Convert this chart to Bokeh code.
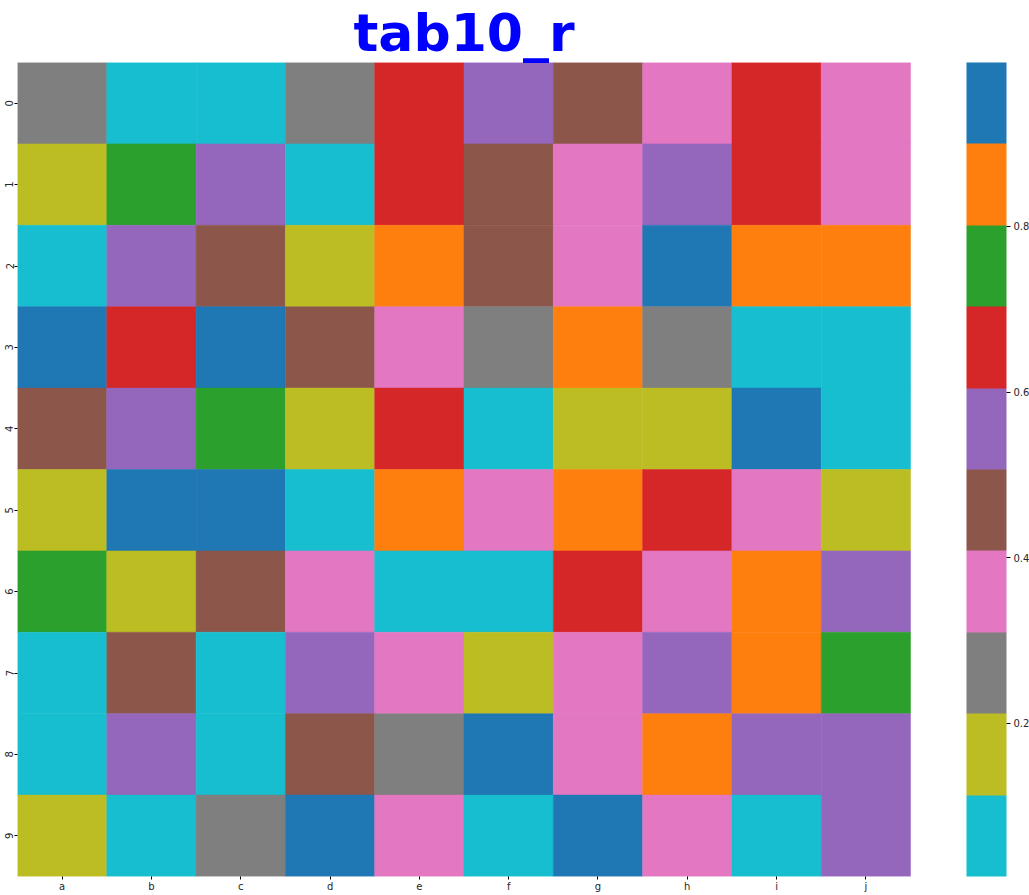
from bokeh.plotting import figure
from bokeh.models import (ColumnDataSource, LinearColorMapper, ColorBar, FixedTicker,
                          Range1d)
from bokeh.transform import transform
from bokeh.embed import file_html
from bokeh.resources import INLINE

columns = ["a", "b", "c", "d", "e", "f", "g", "h", "i", "j"]
rows = ["0", "1", "2", "3", "4", "5", "6", "7", "8", "9"]
values = [
    [0.26, 0.07, 0.05, 0.27, 0.66, 0.56, 0.45, 0.37, 0.64, 0.35],
    [0.17, 0.75, 0.55, 0.09, 0.65, 0.47, 0.36, 0.58, 0.67, 0.38],
    [0.06, 0.54, 0.46, 0.15, 0.84, 0.44, 0.34, 0.96, 0.86, 0.83],
    [0.94, 0.63, 0.95, 0.48, 0.36, 0.25, 0.85, 0.28, 0.08, 0.04],
    [0.43, 0.57, 0.73, 0.18, 0.66, 0.07, 0.16, 0.14, 0.93, 0.10],
    [0.19, 0.97, 0.92, 0.06, 0.87, 0.39, 0.82, 0.68, 0.37, 0.17],
    [0.76, 0.13, 0.45, 0.35, 0.03, 0.09, 0.62, 0.33, 0.84, 0.53],
    [0.05, 0.49, 0.08, 0.59, 0.34, 0.16, 0.38, 0.55, 0.81, 0.74],
    [0.11, 0.56, 0.07, 0.46, 0.29, 0.95, 0.36, 0.88, 0.54, 0.57],
    [0.15, 0.04, 0.24, 0.998, 0.35, 0.015, 0.93, 0.39, 0.06, 0.52],
]
colorbar_ticks = [0.2, 0.4, 0.6, 0.8]
palette = ["#17becf", "#bcbd22", "#7f7f7f", "#e377c2", "#8c564b",
           "#9467bd", "#d62728", "#2ca02c", "#ff7f0e", "#1f77b4"]

W, H = 1029, 895
LEFT, TOP, BOTTOM = 17, 62, 19
HEAT_W = 893          # pixel width of the heatmap area
frame_w = W - LEFT
frame_h = H - TOP - BOTTOM

col_pos = {c: i + 0.5 for i, c in enumerate(columns)}
xs, ys, vs = [], [], []
for r, row in zip(rows, values):
    for c, v in zip(columns, row):
        xs.append(col_pos[c])
        ys.append(r)
        vs.append(v)
flat = [v for row in values for v in row]
source = ColumnDataSource(dict(x=xs, y=ys, value=vs))
mapper = LinearColorMapper(palette=palette, low=min(flat), high=max(flat))

x_end = len(columns) * frame_w / HEAT_W
p = figure(width=W, height=H, x_range=Range1d(0, x_end), y_range=list(reversed(rows)),
           output_backend="svg", toolbar_location=None,
           min_border_left=LEFT, min_border_bottom=BOTTOM, min_border_top=0,
           min_border_right=0)
p.rect(x="x", y="y", width=1, height=1, source=source,
       fill_color=transform("value", mapper), line_color=transform("value", mapper),
       line_width=0.5)

p.title.text = "tab10_r"
p.title.text_color = "#0000ff"
p.title.text_font = "DejaVu Sans"
p.title.text_font_style = "bold"
p.title.text_font_size = "52px"
p.title.standoff = 0
p.title.align = "left"
p.title.offset = 336

p.xaxis.ticker = FixedTicker(ticks=[col_pos[c] for c in columns])
p.xaxis.major_label_overrides = {col_pos[c]: c for c in columns}

for ax in (p.xaxis[0], p.yaxis[0]):
    ax.axis_line_color = None
    ax.major_tick_line_color = "black"
    ax.major_tick_in = 0
    ax.major_tick_out = 3
    ax.minor_tick_line_color = None
    ax.major_label_text_font = "DejaVu Sans"
    ax.major_label_text_font_size = "10px"
    ax.major_label_text_color = "#262626"
    ax.major_label_standoff = 1
p.yaxis.major_label_orientation = "vertical"
p.grid.grid_line_color = None
p.outline_line_color = None

cb = ColorBar(color_mapper=mapper, width=40, height=frame_h,
              ticker=FixedTicker(ticks=colorbar_ticks),
              location=(966 - LEFT, 0),
              padding=0, margin=0, bar_line_color=None, border_line_color=None,
              background_fill_alpha=0,
              major_tick_in=0, major_tick_out=4, major_tick_line_color="black",
              major_label_text_font="DejaVu Sans", major_label_text_font_size="10px",
              major_label_text_color="#262626", label_standoff=3)
p.add_layout(cb, "center")

open("out.html", "w").write(file_html(p, INLINE))
